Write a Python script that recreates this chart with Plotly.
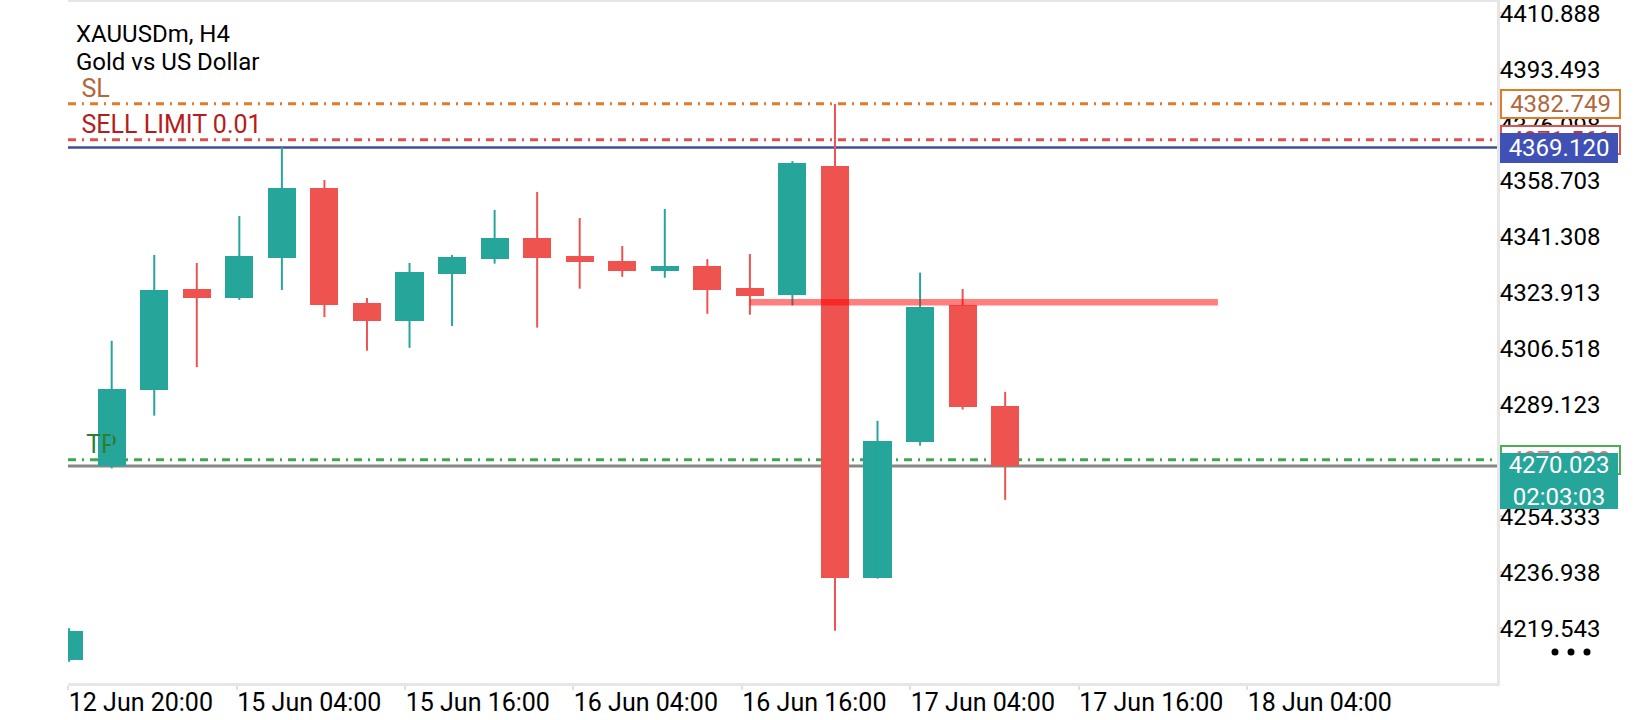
import plotly.graph_objects as go

# candles (index -1 is the half-hidden one at the left edge)
candle_idx = list(range(-1, 22))
opens = [4209.7, 4270.0, 4293.8, 4325.1, 4322.4, 4334.9, 4356.5, 4320.8, 4315.2, 4329.8, 4334.5, 4341.0,
         4335.4, 4333.8, 4330.8, 4332.3, 4325.4, 4323.1, 4363.4, 4235.1, 4277.4, 4320.0, 4288.7]
highs = [4219.6, 4309.0, 4335.7, 4333.2, 4347.8, 4369.4, 4359.0, 4322.3, 4333.2, 4335.7, 4349.7, 4355.3,
         4347.2, 4338.5, 4350.0, 4334.4, 4336.0, 4364.9, 4382.7, 4284.1, 4330.2, 4325.1, 4293.1]
lows = [4209.1, 4269.3, 4285.7, 4300.8, 4321.7, 4324.8, 4316.4, 4305.9, 4306.8, 4313.6, 4333.0, 4313.1,
        4325.2, 4328.9, 4328.6, 4317.4, 4317.1, 4320.0, 4218.8, 4235.0, 4276.4, 4287.6, 4259.5]
closes = [4218.8, 4294.0, 4324.8, 4322.4, 4335.4, 4356.5, 4320.2, 4315.2, 4330.4, 4335.1, 4341.0, 4334.9,
          4333.6, 4330.8, 4332.3, 4324.9, 4323.0, 4364.2, 4235.1, 4277.9, 4319.6, 4288.4, 4270.023]

# axis labels
x_tick_labels = ['12 Jun 20:00', '15 Jun 04:00', '15 Jun 16:00', '16 Jun 04:00',
                 '16 Jun 16:00', '17 Jun 04:00', '17 Jun 16:00', '18 Jun 04:00']
x_tick_pos = [-1.02, 2.94, 6.9, 10.85, 14.81, 18.77, 22.73, 26.69]
y_ticks = [4410.888, 4393.493, 4376.098, 4358.703, 4341.308, 4323.913, 4306.518,
           4289.123, 4271.728, 4254.333, 4236.938, 4219.543]

# trade levels
sl_price = 4382.749
sell_limit_price = 4371.561
line_price = 4369.120
tp_price = 4271.989
bid_price = 4270.023
countdown = '02:03:03'

# drawn segment (start candle, end candle, price)
seg_x = [15, 26]
seg_price = 4321.0

UP = '#26A69A'
DOWN = '#EF5350'
FONT = 'Roboto'

bull = [i for i in range(len(opens)) if closes[i] >= opens[i]]
bear = [i for i in range(len(opens)) if closes[i] < opens[i]]


def wicks(ids):
    xs, ys = [], []
    for i in ids:
        xs += [candle_idx[i], candle_idx[i], None]
        ys += [lows[i], highs[i], None]
    return xs, ys


data = []
# level texts sit under the candles (the P of TP hides behind the first candle)
data.append(go.Scatter(x=[-0.71], y=[sl_price], mode='text', text=['SL'], textposition='top right',
                       textfont=dict(family=FONT, size=25, color='#B0683A'), hoverinfo='skip'))
data.append(go.Scatter(x=[-0.71], y=[sell_limit_price], mode='text', text=['SELL LIMIT 0.01'],
                       textposition='top right',
                       textfont=dict(family=FONT, size=25, color='#B71C1C'), hoverinfo='skip'))
data.append(go.Scatter(x=[-0.60], y=[tp_price], mode='text', text=['TP'], textposition='top right',
                       textfont=dict(family=FONT, size=25, color='#2E7D32'), hoverinfo='skip'))

for ids, col in [(bull, UP), (bear, DOWN)]:
    wx, wy = wicks(ids)
    data.append(go.Scatter(x=wx, y=wy, mode='lines', line=dict(color=col, width=2), hoverinfo='skip'))
    data.append(go.Bar(x=[candle_idx[i] for i in ids],
                       y=[abs(closes[i] - opens[i]) for i in ids],
                       base=[min(opens[i], closes[i]) for i in ids],
                       width=0.66, marker=dict(color=col, line=dict(width=0))))

data.append(go.Scatter(x=seg_x, y=[seg_price, seg_price], mode='lines',
                       line=dict(color='rgba(255,0,0,0.5)', width=6.5), hoverinfo='skip'))

dashdot = '8px,6px,2px,6px'
shapes = [
    dict(type='line', xref='paper', x0=0, x1=1, yref='y', y0=sl_price, y1=sl_price, layer='below',
         line=dict(color='#E07B28', width=3, dash=dashdot)),
    dict(type='line', xref='paper', x0=0, x1=1, yref='y', y0=sell_limit_price, y1=sell_limit_price,
         layer='below', line=dict(color='#D9534F', width=3, dash=dashdot)),
    dict(type='line', xref='paper', x0=0, x1=1, yref='y', y0=line_price, y1=line_price, layer='below',
         line=dict(color='#3F4F95', width=2.5)),
    dict(type='line', xref='paper', x0=0, x1=1, yref='y', y0=tp_price, y1=tp_price, layer='below',
         line=dict(color='#43A64F', width=3, dash=dashdot)),
    dict(type='line', xref='paper', x0=0, x1=1, yref='y', y0=bid_price, y1=bid_price, layer='below',
         line=dict(color='#878787', width=3)),
]
# the "more" menu dots under the price scale
for dx in (58, 74, 90):
    shapes.append(dict(type='circle', xref='paper', xsizemode='pixel', xanchor=1, x0=dx - 3.5, x1=dx + 3.5,
                       yref='paper', ysizemode='pixel', yanchor=0, y0=27.5, y1=34.5,
                       fillcolor='#000000', line=dict(width=0)))


def price_box(price, text, fg, bg, border, h=24, w=115):
    return dict(xref='paper', x=1, xanchor='left', xshift=3, yref='y', y=price, yanchor='middle',
                text=text, showarrow=False, font=dict(family=FONT, size=24, color=fg),
                bgcolor=bg, bordercolor=border, borderwidth=2, borderpad=1, width=w, height=h)


annotations = [
    dict(xref='paper', x=0, xanchor='left', xshift=6, yref='paper', y=1, yanchor='middle', yshift=-32,
         text='XAUUSDm, H4', showarrow=False, font=dict(family=FONT, size=24, color='#000000')),
    dict(xref='paper', x=0, xanchor='left', xshift=6, yref='paper', y=1, yanchor='middle', yshift=-60,
         text='Gold vs US Dollar', showarrow=False, font=dict(family=FONT, size=24, color='#000000')),
    price_box(sl_price, f'{sl_price:.3f}', '#B0683A', '#FFFFFF', '#E07B28'),
    price_box(sell_limit_price, f'{sell_limit_price:.3f}', '#D32F2F', '#FFFFFF', '#D9534F'),
    price_box(line_price, f'{line_price:.3f}', '#FFFFFF', '#3F51B5', '#3F51B5', w=112),
    price_box(tp_price, f'{tp_price:.3f}', '#E57373', '#FFFFFF', '#4CAF50'),
    price_box(bid_price, f'{bid_price:.3f}<br>{countdown}', '#FFFFFF', UP, UP, h=50, w=112),
]
# bid box hangs below its line
annotations[6]['yshift'] = -15

layout = go.Layout(
    width=1640, height=720,
    margin=dict(l=68, r=143, t=2, b=37),
    paper_bgcolor='white', plot_bgcolor='white',
    showlegend=False, barmode='overlay', bargap=0,
    xaxis=dict(range=[-1.027, 32.56], tickmode='array', tickvals=x_tick_pos, ticktext=x_tick_labels,
               ticklabelposition='outside right', ticklabelshift=-2, ticklabelstandoff=-5,
               ticklabeloverflow='allow', showgrid=False, zeroline=False,
               showline=True, mirror=True, linecolor='#E6E6E6', linewidth=3,
               ticks='outside', ticklen=4, tickwidth=2, tickcolor='#E0E0E0',
               tickfont=dict(family=FONT, size=25, color='#000000'), automargin=False, fixedrange=True),
    yaxis=dict(range=[4202.52, 4414.40], side='right', tickmode='array', tickvals=y_ticks,
               ticktext=[f'{v:.3f}' for v in y_ticks], ticklabelstandoff=-10,
               ticklabeloverflow='allow', showgrid=False, zeroline=False,
               showline=True, linecolor='#E6E6E6', linewidth=3,
               ticks='outside', ticklen=5, tickwidth=2, tickcolor='#E0E0E0',
               tickfont=dict(family=FONT, size=24, color='#000000'), automargin=False, fixedrange=True),
    shapes=shapes,
    annotations=annotations,
)

fig = go.Figure(data=data, layout=layout)
fig.write_html('out.html', config={'displayModeBar': False},
               post_script="document.body.style.margin='0';")
